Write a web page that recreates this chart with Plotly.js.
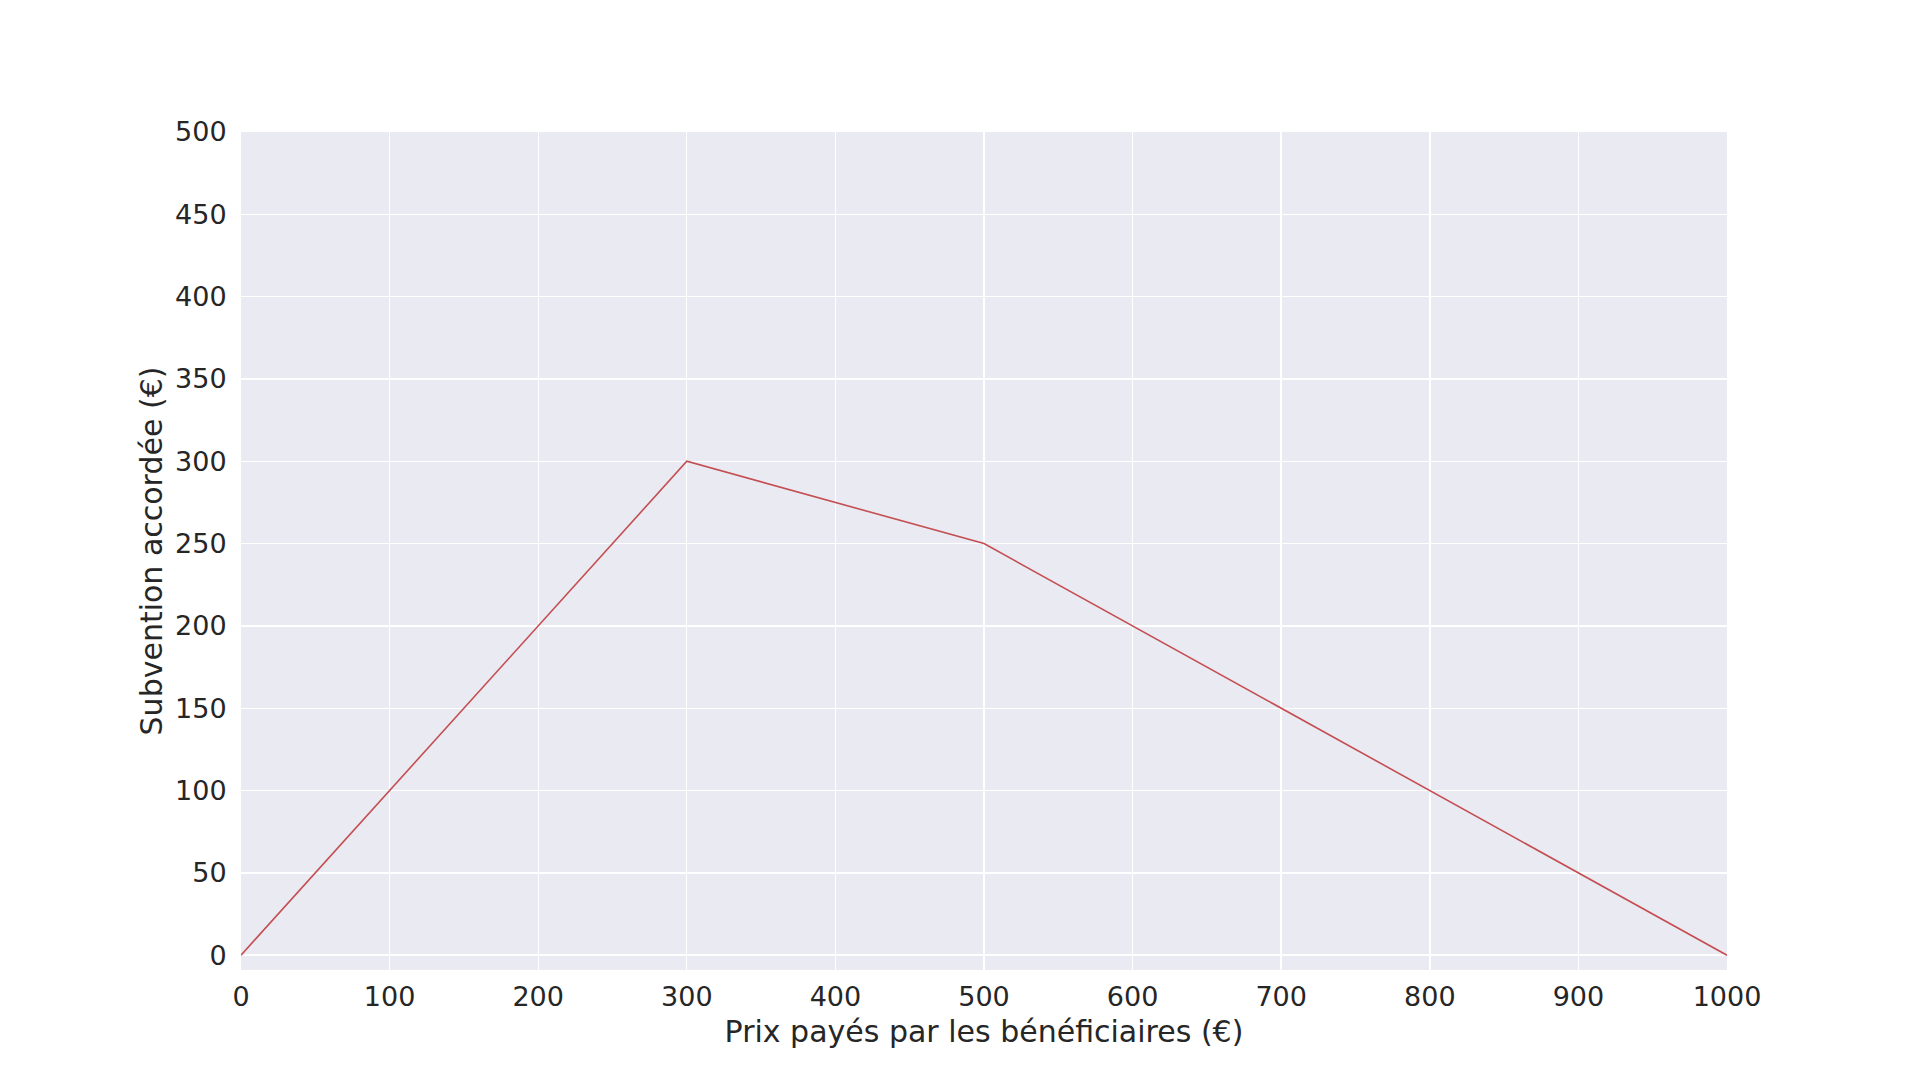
<!DOCTYPE html>
<html>
<head>
<meta charset="utf-8">
<script src="https://cdn.plot.ly/plotly-3.0.1.min.js"></script>
<style>html,body{margin:0;padding:0;background:#fff;}#chart{width:1920px;height:1091px;}</style>
</head>
<body>
<div id="chart"></div>
<script>
const prixPayes = [0, 300, 500, 1000];
const subvention = [0, 300, 250, 0];
const xTicks = [0, 100, 200, 300, 400, 500, 600, 700, 800, 900, 1000];
const yTicks = [0, 50, 100, 150, 200, 250, 300, 350, 400, 450, 500];
const xTitle = "Prix payés par les bénéficiaires (€)";
const yTitle = "Subvention accordée (€)";

const font = {family: "DejaVu Sans, sans-serif", color: "#262626"};

Plotly.newPlot("chart", [{
  x: prixPayes, y: subvention, type: "scatter", mode: "lines",
  line: {color: "#c44e52", width: 1.6}, hoverinfo: "skip"
}], {
  width: 1920, height: 1091,
  margin: {l: 241, r: 193, t: 132, b: 121, pad: 0},
  paper_bgcolor: "#ffffff", plot_bgcolor: "#eaeaf2",
  showlegend: false,
  font: Object.assign({size: 27}, font),
  xaxis: {
    range: [0, 1000], tickvals: xTicks, ticktext: xTicks.map(String),
    showgrid: true, gridcolor: "#ffffff", gridwidth: 1.4, zeroline: false, showline: false,
    ticks: "outside", ticklen: 3, tickcolor: "rgba(0,0,0,0)",
    tickfont: Object.assign({size: 27}, font),
    title: {text: xTitle, font: Object.assign({size: 30}, font), standoff: 9}
  },
  yaxis: {
    range: [-9, 500], tickvals: yTicks, ticktext: yTicks.map(String),
    showgrid: true, gridcolor: "#ffffff", gridwidth: 1.4, zeroline: false, showline: false,
    ticks: "outside", ticklen: 8, tickcolor: "rgba(0,0,0,0)",
    tickfont: Object.assign({size: 27}, font),
    title: {text: yTitle, font: Object.assign({size: 30}, font), standoff: 3}
  }
}, {staticPlot: true});
</script>
</body>
</html>
